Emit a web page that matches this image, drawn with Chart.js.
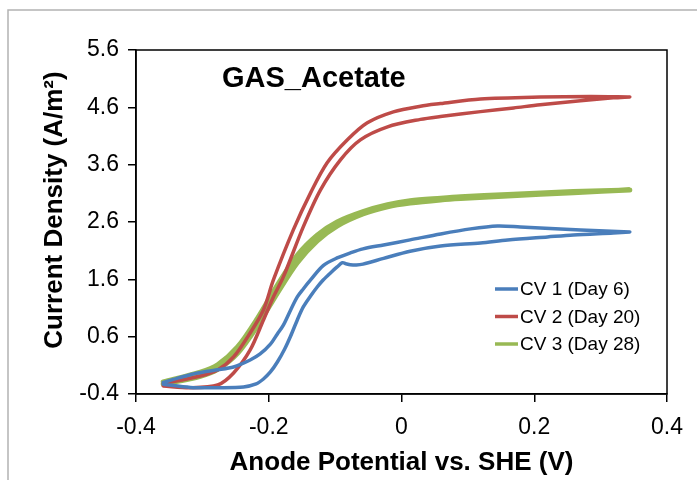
<!DOCTYPE html>
<html>
<head>
<meta charset="utf-8">
<script src="https://cdn.jsdelivr.net/npm/chart.js@4.4.1/dist/chart.umd.min.js"></script>
<style>
html,body{margin:0;padding:0;background:#fff;}
#wrap{position:relative;width:697px;height:480px;}
canvas{display:block;}
</style>
</head>
<body>
<div id="wrap"><canvas id="c" width="697" height="480"></canvas></div>
<script>
// ---------- data ----------
const chartTitle = "GAS_Acetate";
const xTitle = "Anode Potential vs. SHE (V)";
const yTitle = "Current Density (A/m²)";
const seriesNames = ["CV 1 (Day 6)", "CV 2 (Day 20)", "CV 3 (Day 28)"];
const xTicks = [-0.4, -0.2, 0, 0.2, 0.4];
const yTicks = [-0.4, 0.6, 1.6, 2.6, 3.6, 4.6, 5.6];

// CV 1 (Day 6) – forward (lower) branch, left to right
const cv1FwdV = [-0.359, -0.318, -0.273, -0.238, -0.219, -0.208, -0.1975, -0.187, -0.176, -0.167, -0.157, -0.148, -0.137, -0.127, -0.118, -0.107, -0.097, -0.089, -0.083, -0.077, -0.068, -0.058, -0.027, 0.013, 0.059, 0.119, 0.160, 0.220, 0.259, 0.319, 0.344];
const cv1FwdI = [-0.23, -0.285, -0.29, -0.278, -0.225, -0.138, -0.016, 0.158, 0.385, 0.612, 0.891, 1.118, 1.31, 1.467, 1.589, 1.712, 1.816, 1.89, 1.87, 1.855, 1.85, 1.865, 1.965, 2.09, 2.18, 2.235, 2.285, 2.34, 2.375, 2.41, 2.427];
// CV 1 – reverse (upper) branch, right to left
const cv1RevV = [0.344, 0.270, 0.209, 0.179, 0.1445, 0.104, 0.059, 0.013, -0.027, -0.058, -0.077, -0.097, -0.118, -0.137, -0.148, -0.157, -0.167, -0.178, -0.187, -0.1975, -0.213, -0.228, -0.253, -0.280, -0.3075, -0.333, -0.359];
const cv1RevI = [2.427, 2.462, 2.497, 2.514, 2.53, 2.48, 2.392, 2.288, 2.2, 2.131, 2.061, 1.973, 1.839, 1.589, 1.432, 1.293, 1.066, 0.8, 0.647, 0.47, 0.298, 0.193, 0.071, 0.019, -0.033, -0.11, -0.2];

// CV 2 (Day 20)
const cv2FwdV = [-0.359, -0.318, -0.277, -0.253, -0.228, -0.208, -0.193, -0.178, -0.148, -0.122, -0.092, -0.062, -0.021, 0.0285, 0.0586, 0.119, 0.169, 0.209, 0.2695, 0.319, 0.344];
const cv2FwdI = [-0.26, -0.29, -0.243, -0.033, 0.368, 0.891, 1.293, 1.642, 2.514, 3.16, 3.684, 4.033, 4.26, 4.39, 4.44, 4.525, 4.59, 4.645, 4.715, 4.765, 4.782];
const cv2RevV = [0.344, 0.285, 0.209, 0.119, 0.0586, 0.0285, -0.0122, -0.0515, -0.0815, -0.112, -0.137, -0.163, -0.193, -0.208, -0.228, -0.253, -0.277, -0.303, -0.359];
const cv2RevI = [4.782, 4.79, 4.78, 4.745, 4.665, 4.62, 4.521, 4.33, 4.033, 3.632, 3.108, 2.462, 1.589, 1.066, 0.665, 0.246, 0.019, -0.086, -0.22];

// CV 3 (Day 28)
const cv3FwdV = [-0.359, -0.303, -0.277, -0.247, -0.217, -0.187, -0.157, -0.127, -0.097, -0.058, -0.021, 0.013, 0.059, 0.089, 0.160, 0.259, 0.344];
const cv3FwdI = [-0.23, -0.09, 0.03, 0.31, 0.79, 1.36, 1.89, 2.27, 2.53, 2.74, 2.865, 2.93, 2.985, 3.01, 3.055, 3.11, 3.16];
const cv3RevV = [0.344, 0.259, 0.160, 0.089, 0.059, 0.013, -0.021, -0.058, -0.097, -0.127, -0.157, -0.187, -0.217, -0.247, -0.277, -0.303, -0.359];
const cv3RevI = [3.16, 3.13, 3.08, 3.04, 3.015, 2.97, 2.9, 2.78, 2.6, 2.37, 2.02, 1.5, 0.92, 0.42, 0.11, -0.02, -0.19];

// ---------- helpers ----------
function toPoints(vs, is) { return vs.map((v, k) => ({ x: v, y: is[k] })); }
function loop(fv, fi, rv, ri) { return toPoints(fv, fi).concat(toPoints(rv, ri)); }
const fmt = v => String(Math.round(v * 10) / 10);
const FONT = "'Liberation Sans', Arial, Helvetica, sans-serif";
Chart.defaults.font.family = FONT;
Chart.defaults.color = '#000';

const colors = ['#4A7EBB', '#BE4B48', '#98B954'];
const widths = [3.5, 3.5, 5];

const datasets = [
  loop(cv1FwdV, cv1FwdI, cv1RevV, cv1RevI),
  loop(cv2FwdV, cv2FwdI, cv2RevV, cv2RevI),
  loop(cv3FwdV, cv3FwdI, cv3RevV, cv3RevI)
].map((pts, i) => ({
  label: seriesNames[i],
  data: pts,
  showLine: true,
  borderColor: colors[i],
  backgroundColor: colors[i],
  borderWidth: widths[i],
  pointRadius: 0,
  pointHoverRadius: 0,
  tension: 0.3,
  fill: false,
  borderCapStyle: 'round',
  borderJoinStyle: 'round'
}));

const decor = {
  id: 'decor',
  beforeDraw(chart) {
    const ctx = chart.ctx;
    ctx.save();
    ctx.fillStyle = '#fff';
    ctx.fillRect(0, 0, chart.width, chart.height);
    ctx.strokeStyle = '#b3b3b3';
    ctx.lineWidth = 1.5;
    ctx.beginPath();
    ctx.moveTo(8, chart.height);
    ctx.lineTo(8, 10);
    ctx.lineTo(chart.width, 10);
    ctx.stroke();
    ctx.restore();
  },
  afterDraw(chart) {
    const ctx = chart.ctx;
    const a = chart.chartArea;
    ctx.save();
    // plot box
    ctx.strokeStyle = '#000';
    ctx.lineWidth = 1.5;
    ctx.strokeRect(a.left, a.top, a.right - a.left, a.bottom - a.top);
    // chart title
    ctx.fillStyle = '#000';
    ctx.font = "bold 29px " + FONT;
    ctx.textAlign = 'left';
    ctx.textBaseline = 'alphabetic';
    ctx.fillText(chartTitle, 222, 87);
    // y title
    ctx.save();
    ctx.translate(55, 210);
    ctx.rotate(-Math.PI / 2);
    ctx.font = "bold 26px " + FONT;
    ctx.textAlign = 'center';
    ctx.textBaseline = 'middle';
    ctx.fillText(yTitle, 0, 0);
    ctx.restore();
    // legend
    ctx.font = "19px " + FONT;
    ctx.textBaseline = 'middle';
    chart.data.datasets.forEach((ds, i) => {
      const ry = 289 + i * 27.5;
      ctx.strokeStyle = ds.borderColor;
      ctx.lineWidth = 3.5;
      ctx.beginPath();
      ctx.moveTo(495, ry);
      ctx.lineTo(518, ry);
      ctx.stroke();
      ctx.fillStyle = '#000';
      ctx.fillText(ds.label, 520, ry + 1);
    });
    ctx.restore();
  }
};

new Chart(document.getElementById('c'), {
  type: 'scatter',
  data: { datasets },
  options: {
    responsive: false,
    devicePixelRatio: 1,
    animation: false,
    layout: { padding: { top: 50, right: 30, left: 0, bottom: 0 } },
    plugins: { legend: { display: false }, tooltip: { enabled: false }, title: { display: false } },
    scales: {
      x: {
        type: 'linear', position: 'bottom', min: -0.4, max: 0.4,
        afterBuildTicks: s => { s.ticks = xTicks.map(v => ({ value: v })); },
        afterFit: s => { s.height = 86; },
        ticks: { callback: v => fmt(v), font: { size: 23 }, color: '#000', padding: 12, maxRotation: 0, autoSkip: false },
        grid: { display: true, drawOnChartArea: false, drawTicks: true, tickLength: 8, color: '#000', lineWidth: 1.5 },
        border: { display: true, color: '#000', width: 1.5 },
        title: { display: true, text: xTitle, color: '#000', font: { size: 26, weight: 'bold' }, padding: { top: 0, bottom: 2 } }
      },
      y: {
        type: 'linear', position: 'left', min: -0.4, max: 5.6,
        afterBuildTicks: s => { s.ticks = yTicks.map(v => ({ value: v })); },
        afterFit: s => { s.width = 136; },
        ticks: { callback: v => fmt(v), font: { size: 23 }, color: '#000', padding: 9, autoSkip: false },
        grid: { display: true, drawOnChartArea: false, drawTicks: true, tickLength: 8, color: '#000', lineWidth: 1.5 },
        border: { display: true, color: '#000', width: 1.5 },
        title: { display: false }
      }
    }
  },
  plugins: [decor]
});
</script>
</body>
</html>
